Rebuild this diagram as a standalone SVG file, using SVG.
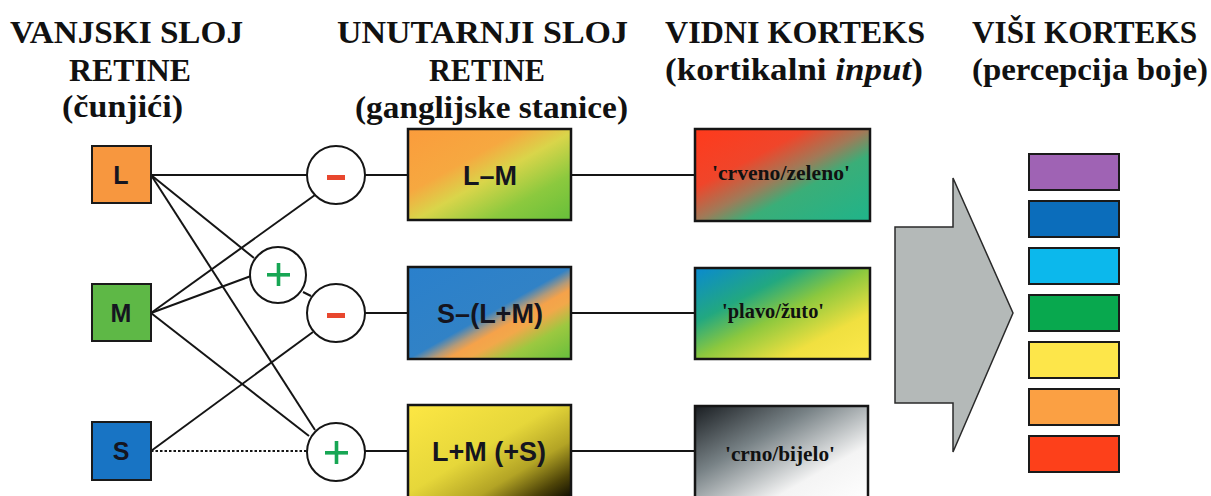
<svg xmlns="http://www.w3.org/2000/svg" width="1211" height="496" viewBox="0 0 1211 496">
<style>
.hdr{font-family:"Liberation Serif","Times New Roman",serif;font-weight:bold;font-size:32px;fill:#111;text-anchor:middle}
.cone{stroke:#1a1a1a;stroke-width:2}
.ctext{font-family:"Liberation Sans",Arial,sans-serif;font-weight:bold;font-size:25px;fill:#151520;text-anchor:middle}
.circ{fill:#fff;stroke:#151515;stroke-width:2}
.box{stroke:#151515;stroke-width:2.5}
.btext{font-family:"Liberation Sans",Arial,sans-serif;font-weight:bold;font-size:27px;fill:#15151f;text-anchor:middle}
.vtext{font-family:"Liberation Serif","Times New Roman",serif;font-weight:bold;font-size:20px;fill:#111;text-anchor:middle}
.conn line{stroke:#151515;stroke-width:2}
.bar{stroke:#1a1a1a;stroke-width:2}
.minus{fill:#e8472e}
.plus{fill:#17a654}
</style>
<defs>
<linearGradient id="gLM" x1="0" y1="0" x2="1" y2="1">
<stop offset="0" stop-color="#fb9c3c"/><stop offset="0.35" stop-color="#f6a840"/><stop offset="0.52" stop-color="#d9d54a"/><stop offset="0.75" stop-color="#8cc93e"/><stop offset="1" stop-color="#66bf3a"/>
</linearGradient>
<linearGradient id="gS" x1="0" y1="0" x2="1" y2="1">
<stop offset="0" stop-color="#2a80cc"/><stop offset="0.5" stop-color="#3182c6"/><stop offset="0.57" stop-color="#b49a78"/><stop offset="0.62" stop-color="#f5a24a"/><stop offset="0.68" stop-color="#f2a84a"/><stop offset="0.8" stop-color="#9cc840"/><stop offset="1" stop-color="#66bf3c"/>
</linearGradient>
<linearGradient id="gLMS" x1="0" y1="0" x2="1" y2="1">
<stop offset="0" stop-color="#fde744"/><stop offset="0.45" stop-color="#e6d73a"/><stop offset="0.68" stop-color="#b3a425"/><stop offset="0.85" stop-color="#4e4408"/><stop offset="1" stop-color="#000"/>
</linearGradient>
<linearGradient id="gRG" x1="0" y1="0" x2="1" y2="1">
<stop offset="0" stop-color="#ff3a1c"/><stop offset="0.32" stop-color="#f0452a"/><stop offset="0.5" stop-color="#a07a58"/><stop offset="0.64" stop-color="#3aae78"/><stop offset="1" stop-color="#1fb48a"/>
</linearGradient>
<linearGradient id="gBY" x1="0" y1="0" x2="1" y2="1">
<stop offset="0" stop-color="#0a8ad0"/><stop offset="0.3" stop-color="#22a880"/><stop offset="0.5" stop-color="#8cc83e"/><stop offset="0.75" stop-color="#f0e040"/><stop offset="1" stop-color="#fde84a"/>
</linearGradient>
<linearGradient id="gBW" x1="0" y1="0" x2="1" y2="1">
<stop offset="0" stop-color="#1a1e22"/><stop offset="0.35" stop-color="#788286"/><stop offset="0.7" stop-color="#f4f4f4"/><stop offset="1" stop-color="#ffffff"/>
</linearGradient>
</defs>
<rect width="1211" height="496" fill="#fff"/>

<g id="headers">
<text class="hdr" x="126.5" y="43" textLength="233" lengthAdjust="spacingAndGlyphs">VANJSKI SLOJ</text>
<text class="hdr" x="130" y="81" textLength="122" lengthAdjust="spacingAndGlyphs">RETINE</text>
<text class="hdr" x="122.5" y="117" textLength="121" lengthAdjust="spacingAndGlyphs">(čunjići)</text>
<text class="hdr" x="482.5" y="43" textLength="291" lengthAdjust="spacingAndGlyphs">UNUTARNJI SLOJ</text>
<text class="hdr" x="487" y="81" textLength="116" lengthAdjust="spacingAndGlyphs">RETINE</text>
<text class="hdr" x="491.5" y="118" textLength="273" lengthAdjust="spacingAndGlyphs">(ganglijske stanice)</text>
<text class="hdr" x="795" y="43" textLength="260" lengthAdjust="spacingAndGlyphs">VIDNI KORTEKS</text>
<text class="hdr" x="794" y="80" textLength="258" lengthAdjust="spacingAndGlyphs">(kortikalni <tspan font-style="italic">input</tspan>)</text>
<text class="hdr" x="1084.5" y="43" textLength="225" lengthAdjust="spacingAndGlyphs">VIŠI KORTEKS</text>
<text class="hdr" x="1090" y="80" textLength="236" lengthAdjust="spacingAndGlyphs">(percepcija boje)</text>
</g>

<g id="connectors" class="conn">
<line x1="151" y1="175" x2="307" y2="175"/>
<line x1="151" y1="175" x2="254" y2="258"/>
<line x1="151" y1="175" x2="315" y2="430"/>
<line x1="151" y1="313" x2="315" y2="195"/>
<line x1="151" y1="313" x2="251" y2="276"/>
<line x1="151" y1="313" x2="309" y2="436"/>
<line x1="151" y1="451" x2="313" y2="332"/>
<line x1="151" y1="451" x2="307" y2="451" stroke-dasharray="2.5 2"/>
<line x1="303" y1="292" x2="311" y2="296"/>
<line x1="365" y1="175" x2="408" y2="175"/>
<line x1="365" y1="313" x2="408" y2="313"/>
<line x1="365" y1="451" x2="408" y2="451"/>
<line x1="571" y1="175" x2="695" y2="175"/>
<line x1="571" y1="313" x2="695" y2="313"/>
<line x1="571" y1="451" x2="695" y2="451"/>
</g>

<g id="cone-L">
<rect class="cone" x="92" y="146" width="59" height="57" fill="#f7973f"/>
<text class="ctext" x="121" y="184">L</text>
</g>
<g id="cone-M">
<rect class="cone" x="92" y="284" width="59" height="57" fill="#5eb846"/>
<text class="ctext" x="121" y="322">M</text>
</g>
<g id="cone-S">
<rect class="cone" x="92" y="422" width="59" height="58" fill="#1874c4"/>
<text class="ctext" x="121" y="460">S</text>
</g>

<g id="op-minus-1">
<circle class="circ" cx="336" cy="175" r="29"/>
<rect class="minus" x="327" y="175" width="18" height="5"/>
</g>
<g id="op-plus-2">
<circle class="circ" cx="278" cy="275" r="28"/>
<rect class="plus" x="267" y="273" width="23" height="3.6"/>
<rect class="plus" x="276.7" y="263" width="3.6" height="23"/>
</g>
<g id="op-minus-2">
<circle class="circ" cx="336" cy="313" r="29"/>
<rect class="minus" x="327" y="313" width="18" height="5"/>
</g>
<g id="op-plus-3">
<circle class="circ" cx="336" cy="452" r="29"/>
<rect class="plus" x="325" y="451" width="23" height="3.6"/>
<rect class="plus" x="334.7" y="441" width="3.6" height="23"/>
</g>

<g id="gc-LM">
<rect class="box" x="408" y="129" width="163" height="91" fill="url(#gLM)"/>
<text class="btext" x="490" y="185">L–M</text>
</g>
<g id="gc-S">
<rect class="box" x="408" y="267" width="163" height="92" fill="url(#gS)"/>
<text class="btext" x="490" y="323">S–(L+M)</text>
</g>
<g id="gc-LMS">
<rect class="box" x="408" y="405" width="163" height="98" fill="url(#gLMS)"/>
<text class="btext" x="489" y="461">L+M (+S)</text>
</g>

<g id="v1-rg">
<rect class="box" x="695" y="129" width="175" height="92" fill="url(#gRG)"/>
<text class="vtext" x="781" y="180" textLength="138" lengthAdjust="spacingAndGlyphs">'crveno/zeleno'</text>
</g>
<g id="v1-by">
<rect class="box" x="695" y="268" width="175" height="91" fill="url(#gBY)"/>
<text class="vtext" x="773" y="318" textLength="102" lengthAdjust="spacingAndGlyphs">'plavo/žuto'</text>
</g>
<g id="v1-bw">
<rect class="box" x="695" y="406" width="173" height="98" fill="url(#gBW)"/>
<text class="vtext" x="780" y="461" textLength="110" lengthAdjust="spacingAndGlyphs">'crno/bijelo'</text>
</g>

<g id="big-arrow">
<polygon points="895,227 953,227 953,178 1013,313 953,452 953,403 895,403" fill="#b4b9b8" stroke="#2a2a2a" stroke-width="1.5" stroke-linejoin="miter"/>
</g>

<g id="colour-bars">
<rect class="bar" x="1029" y="154" width="90" height="36" fill="#9f63b4"/>
<rect class="bar" x="1029" y="201" width="90" height="36" fill="#0b6dbb"/>
<rect class="bar" x="1029" y="248" width="90" height="36" fill="#0cb8ec"/>
<rect class="bar" x="1029" y="295" width="90" height="36" fill="#08a84e"/>
<rect class="bar" x="1029" y="342" width="90" height="36" fill="#fde64a"/>
<rect class="bar" x="1029" y="389" width="90" height="36" fill="#fba043"/>
<rect class="bar" x="1029" y="436" width="90" height="36" fill="#fd401a"/>
</g>
</svg>
